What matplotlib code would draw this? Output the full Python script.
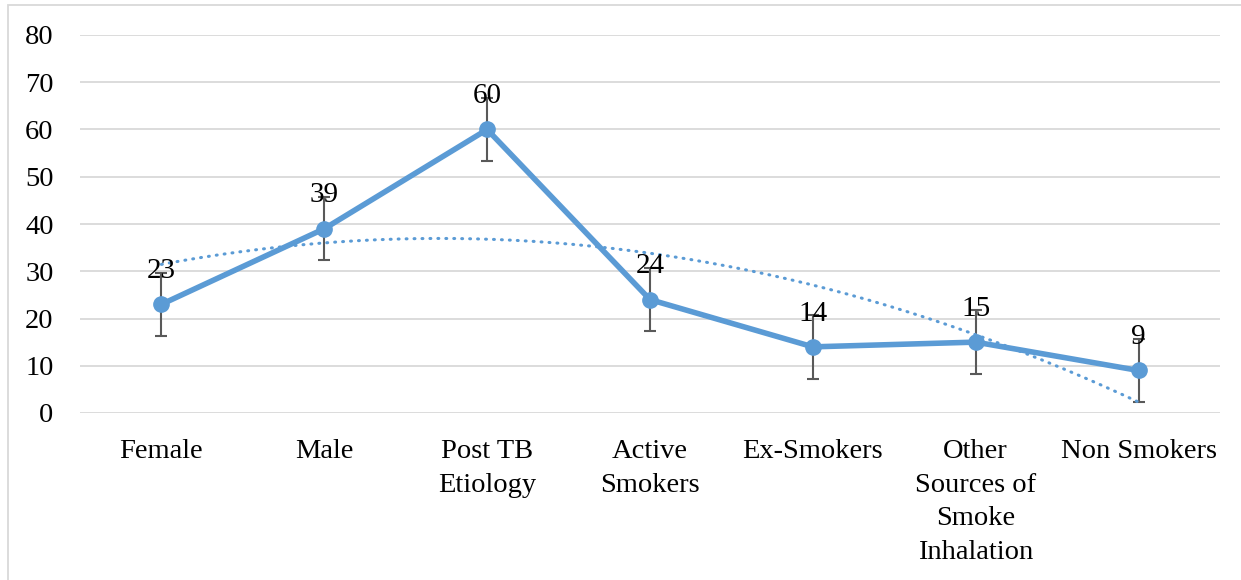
import numpy as np
import matplotlib
matplotlib.use('Agg')
import matplotlib.pyplot as plt
from matplotlib.patches import Rectangle

categories = ['Female', 'Male', 'Post TB\nEtiology', 'Active\nSmokers', 'Ex-Smokers',
              'Other\nSources of\nSmoke\nInhalation', 'Non Smokers']
values = [23, 39, 60, 24, 14, 15, 9]
err = [6.7, 6.7, 6.7, 6.7, 6.7, 6.7, 6.7]

BLUE = '#5B9BD5'
plt.rcParams['font.family'] = ['Liberation Serif', 'DejaVu Serif']


def main():
    fig = plt.figure(figsize=(12.41, 5.80), dpi=100)
    ax = fig.add_axes([80 / 1241, 1 - 413 / 580, 1140 / 1241, 378 / 580])

    x = np.arange(len(values))

    # error bars behind markers
    ax.errorbar(x, values, yerr=err, fmt='none', ecolor='#595959', elinewidth=1.5,
                capsize=4.5, capthick=1.5, zorder=2)
    ax.plot(x, values, color=BLUE, linewidth=4, marker='o', markersize=11, zorder=3)

    # polynomial (order 2) trendline
    coef = np.polyfit(x, values, 2)
    xs = np.linspace(0, len(values) - 1, 300)
    ax.plot(xs, np.polyval(coef, xs), color=BLUE, linewidth=2.2, linestyle=(0, (0.3, 2.3)),
            dash_capstyle='round', zorder=4)

    for xi, v in zip(x, values):
        ax.annotate(str(v), (xi, v), xytext=(0, 24), textcoords='offset points',
                    ha='center', va='center', fontsize=21, color='black', zorder=5)

    ax.set_xlim(-0.5, len(values) - 0.5)
    ax.set_ylim(0, 80)
    ax.set_yticks(range(0, 81, 10))
    ax.set_xticks(x)
    ax.set_xticklabels(categories, fontsize=20.5, linespacing=1.45)
    ax.tick_params(axis='y', labelsize=20.5, length=0, pad=19)
    ax.tick_params(axis='x', length=0, pad=19)
    ax.yaxis.grid(True, color='#D9D9D9', linewidth=1.3)
    ax.set_axisbelow(True)
    for s in ax.spines.values():
        s.set_visible(False)
    ax.patch.set_alpha(0)

    # chart area border
    fig.patches.append(Rectangle((8 / 1241, -0.1), 1.2, 1.1 - 5 / 580, transform=fig.transFigure,
                                 fill=False, edgecolor='#D9D9D9', linewidth=1.3))

    fig.savefig('out.png', dpi=100)


if __name__ == '__main__':
    main()
